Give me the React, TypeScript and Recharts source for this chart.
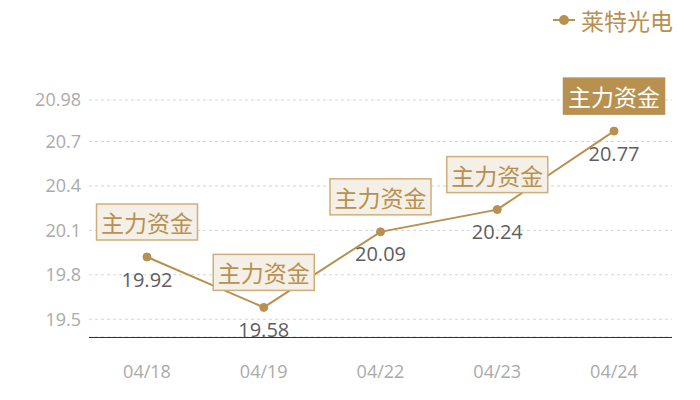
import React from 'react';
import { LineChart, Line, XAxis, YAxis, CartesianGrid, Legend, LabelList } from 'recharts';

const categories = ['04/18', '04/19', '04/22', '04/23', '04/24'];
const prices = [19.92, 19.58, 20.09, 20.24, 20.77];
const yTicks = [19.5, 19.8, 20.1, 20.4, 20.7, 20.98];
const seriesName = '莱特光电';
const tagText = '主力资金';

const data = categories.map((d, i) => ({ date: d, value: prices[i] }));

const GOLD = '#b8904f';
const FONT = '"Noto Sans CJK SC", "Noto Sans", sans-serif';
const NUMFONT = '"Open Sans", "Noto Sans", sans-serif';

const PointLabel = (props: any) => {
  const { x, y, value, index } = props;
  const last = index === prices.length - 1;
  const bw = 101;
  const bh = 36;
  const by = y - 35;
  return (
    <g>
      <text x={x} y={y + 22} textAnchor="middle" dominantBaseline="central" fontSize={20} fill="#5e5e5e" fontFamily={NUMFONT}>
        {value}
      </text>
      <rect x={x - bw / 2} y={by - bh / 2} width={bw} height={bh} fill={last ? GOLD : '#f4efe7'} stroke={last ? GOLD : '#cfae7c'} strokeWidth={1.5} />
      <text x={x} y={by} textAnchor="middle" dominantBaseline="central" fontSize={23} fill={last ? '#fff' : GOLD} fontFamily={FONT}>
        {tagText}
      </text>
    </g>
  );
};

const LegendContent = () => (
  <div style={{ display: 'flex', alignItems: 'center', fontFamily: FONT, color: GOLD, fontSize: 23, height: 32 }}>
    <svg width={22} height={12} style={{ marginRight: 6 }}>
      <line x1={0} y1={6} x2={22} y2={6} stroke={GOLD} strokeWidth={2} />
      <circle cx={11} cy={6} r={5} fill={GOLD} />
    </svg>
    <span>{seriesName}</span>
  </div>
);

export default function App() {
  return (
    <div style={{ position: 'absolute', left: 0, top: 0, width: 700, height: 400, background: '#fff' }}>
      <LineChart width={700} height={400} data={data} margin={{ top: 68, right: 28, left: 0, bottom: 0 }}>
        <CartesianGrid vertical={false} stroke="#d4d4d4" strokeDasharray="3 3" />
        <XAxis
          dataKey="date"
          height={63}
          padding={{ left: 58, right: 58 }}
          tickLine={false}
          axisLine={{ stroke: '#333', strokeWidth: 1, shapeRendering: 'crispEdges' }}
          tickMargin={22}
          tick={{ fill: '#aaa', fontSize: 18, fontFamily: NUMFONT }}
        />
        <YAxis
          width={89}
          domain={[19.38, 20.98]}
          ticks={yTicks}
          axisLine={false}
          tickLine={false}
          tick={{ fill: '#aaa', fontSize: 18, fontFamily: NUMFONT }}
        />
        <Legend verticalAlign="top" align="right" content={<LegendContent />} wrapperStyle={{ top: 4, right: 27, width: 'auto', left: 'auto' }} />
        <Line
          type="linear"
          dataKey="value"
          name={seriesName}
          stroke={GOLD}
          strokeWidth={2}
          dot={{ r: 4, fill: GOLD, stroke: GOLD, strokeWidth: 1 }}
          activeDot={false}
          isAnimationActive={false}
        >
          <LabelList dataKey="value" content={<PointLabel />} />
        </Line>
      </LineChart>
    </div>
  );
}
